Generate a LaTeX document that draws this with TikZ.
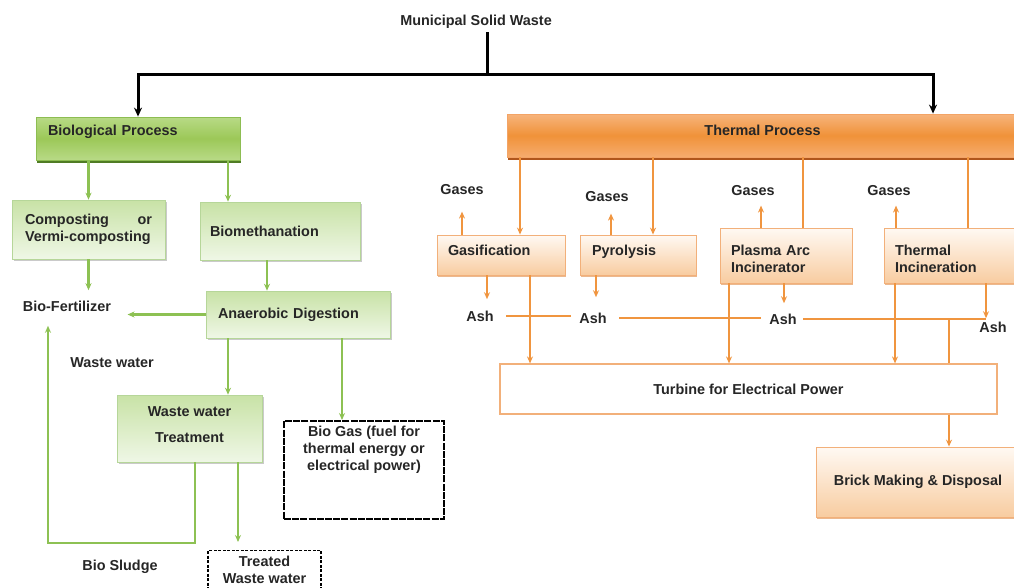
\documentclass[tikz,border=0pt]{standalone}
\usepackage{fontspec}
\setmainfont{Liberation Sans}
\usepackage{xcolor}
\usepackage{tikz}
\usetikzlibrary{positioning, arrows.meta, shadows, calc}
\definecolor{bInk}{HTML}{262626}
\definecolor{gHeadTop}{HTML}{B8DA86}
\definecolor{gHeadMid}{HTML}{9CC858}
\definecolor{gHeadLine}{HTML}{8DBD52}
\definecolor{gHeadDark}{HTML}{4F7C24}
\definecolor{gBoxTop}{HTML}{C8E2A6}
\definecolor{gBoxBot}{HTML}{EFF7E6}
\definecolor{gBoxLine}{HTML}{B6D699}
\definecolor{gArrow}{HTML}{8DC153}
\definecolor{oHeadTop}{HTML}{F7B47C}
\definecolor{oHeadMid}{HTML}{F09239}
\definecolor{oHeadBot}{HTML}{F6AC6E}
\definecolor{oHeadLine}{HTML}{F3A466}
\definecolor{oHeadDark}{HTML}{B0561C}
\definecolor{oBoxTop}{HTML}{FFF9F3}
\definecolor{oBoxBot}{HTML}{F8CCA0}
\definecolor{oBoxLine}{HTML}{F2B07A}
\definecolor{oBoxShade}{HTML}{E39A5E}
\definecolor{oArrow}{HTML}{F0953F}
\tikzset{
  txt/.style={font=\bfseries\fontsize{14.4}{17}\selectfont, text=bInk},
  lbl/.style={txt, inner sep=3.3pt},
  biohead/.style={txt, draw=gHeadLine, line width=0.8pt, top color=gHeadTop, bottom color=gHeadTop,
    middle color=gHeadMid, align=left, text depth=16pt,
    drop shadow={shadow xshift=1pt, shadow yshift=-3pt, fill=gHeadDark, opacity=1}},
  gbox/.style={txt, draw=gBoxLine, line width=0.6pt, top color=gBoxTop, bottom color=gBoxBot, align=left,
    drop shadow={shadow xshift=1.5pt, shadow yshift=-2pt, fill=black!35, opacity=.6}},
  thermhead/.style={txt, draw=oHeadLine, line width=0.8pt, top color=oHeadTop, bottom color=oHeadBot,
    middle color=oHeadMid, text depth=11pt,
    drop shadow={shadow xshift=1pt, shadow yshift=-3pt, fill=oHeadDark, opacity=1}},
  obox/.style={txt, draw=oBoxLine, line width=0.8pt, top color=oBoxTop, bottom color=oBoxBot, align=left,
    text depth=10pt, drop shadow={shadow xshift=1pt, shadow yshift=-2pt, fill=oBoxShade, opacity=.7}},
  turbbox/.style={txt, draw=oBoxLine, line width=1.2pt, fill=white},
  brickbox/.style={txt, draw=oBoxLine, line width=0.8pt, top color=oBoxTop, bottom color=oBoxBot,
    drop shadow={shadow xshift=1pt, shadow yshift=-2pt, fill=oBoxShade, opacity=.7}},
  gasbox/.style={txt, draw=black, line width=2.2pt, dash pattern=on 7pt off 1.2pt, fill=white,
    inner xsep=5pt, inner ysep=5pt},
  twbox/.style={txt, draw=black, line width=1.2pt, dash pattern=on 3pt off 1.5pt, fill=white},
  trunk/.style={draw=black, line width=3pt},
  trunkarrow/.style={trunk, -{Stealth[length=9pt, width=8pt]}},
  garrow/.style={-{Stealth[length=7pt, width=6pt]}, line width=2.2pt, gArrow},
  oline/.style={line width=2pt, oArrow},
  oarrow/.style={-{Stealth[length=7pt, width=6pt]}, line width=2pt, oArrow},
}

\begin{document}
\begin{tikzpicture}[x=1pt, y=-1pt, >=Stealth]
  \useasboundingbox (0,0) rectangle (1014,587);
  \node[lbl] (msw) at (476,22) {Municipal Solid Waste};

  % biological side
  \node[biohead, text width=180pt, inner xsep=12pt, minimum height=43pt] (bio) at (138,138.5) {Biological Process};
  \node[gbox, text width=127pt, inner xsep=13pt, minimum height=59pt] (comp) at (88.5,229.5) {Composting\hfill or\\Vermi-composting};
  \node[gbox, text width=140pt, inner xsep=10pt, minimum height=58pt] (biometh) at (280,231) {Biomethanation};
  \node[lbl] (fert) at (67,306) {Bio-Fertilizer};
  \node[gbox, text width=160pt, inner xsep=12pt, minimum height=47pt] (anaer) at (298,314.5) {Anaerobic Digestion};
  \node[lbl] (wwlbl) at (112,363) {Waste water};
  \node[gbox, align=center, minimum width=145pt, minimum height=67pt, text depth=8pt] (wwt) at (189.5,428.5) {Waste water\\[9pt]Treatment};
  \node[gasbox, anchor=north] (biogas) at (364,420)
    {\parbox[t][88pt][t]{150pt}{\centering Bio Gas (fuel for\\thermal energy or\\electrical power)}};
  \node[twbox, align=center, minimum width=113pt, minimum height=39pt, anchor=north] (treated) at (264.5,550) {Treated\\Waste water};
  \node[lbl] (sludge) at (120,567) {Bio Sludge};

  % thermal side
  \node[thermhead, minimum width=511pt, minimum height=43pt] (therm) at (762.5,135.5) {Thermal Process};
  \node[obox, text width=106pt, inner xsep=11pt, minimum height=40pt] (gasif) at (501,255) {Gasification};
  \node[obox, text width=92pt, inner xsep=12pt, minimum height=40pt] (pyro) at (638,255) {Pyrolysis};
  \node[obox, text width=110pt, inner xsep=11pt, minimum height=55pt] (plasma) at (786,255.5) {Plasma Arc\\Incinerator};
  \node[obox, text width=114pt, inner xsep=11pt, minimum height=55pt] (thincin) at (952,255.5) {Thermal\\Incineration};
  \foreach \n/\x/\y in {1/462/190, 2/607/197, 3/753/191, 4/889/191}
    \node[lbl] (gas\n) at (\x,\y) {Gases};
  \foreach \n/\x/\y in {1/480/316, 2/593/318, 3/783/319, 4/993/327}
    \node[lbl] (ash\n) at (\x,\y) {Ash};
  \node[turbbox, minimum width=497pt, minimum height=50pt] (turb) at (748.5,389) {Turbine for Electrical Power};
  \node[brickbox, minimum width=204pt, minimum height=70pt] (brick) at (918,482) {Brick Making \& Disposal};

  % main split
  \coordinate (split) at (487,74);
  \draw[trunk] (split |- msw.south) -- (split);
  \draw[trunkarrow] (split) -| (bio.north);
  \draw[trunkarrow] (split) -| ([xshift=170.5pt]therm.north);

  % green flows
  \draw[garrow] (bio.south -| comp.north) -- (comp.north);
  \draw[garrow] ([xshift=-52pt]biometh.north |- bio.south) -- ([xshift=-52pt]biometh.north);
  \draw[garrow, shorten >=7pt] (comp.south) -- (comp.south |- fert.north);
  \draw[garrow] ([xshift=-13pt]biometh.south) -- ([xshift=-13pt]biometh.south |- anaer.north);
  \draw[garrow, shorten >=13pt] (anaer.west) -- (anaer.west -| fert.east);
  \draw[garrow] ([xshift=-70pt]anaer.south) -- ([xshift=-70pt]anaer.south |- wwt.north);
  \draw[garrow] ([xshift=44pt]anaer.south) -- ([xshift=44pt]anaer.south |- biogas.north);
  \coordinate (sludgeturn) at (48,543);
  \draw[garrow, shorten >=11pt] ([xshift=5.5pt]wwt.south) |- (sludgeturn) -- (sludgeturn |- fert.south);
  \draw[garrow, shorten >=8pt] ([xshift=48.5pt]wwt.south) -- ([xshift=48.5pt]wwt.south |- treated.north);

  % orange flows
  \draw[oarrow] ([xshift=19pt]gasif.north |- therm.south) -- ([xshift=19pt]gasif.north);
  \draw[oarrow] ([xshift=15pt]pyro.north |- therm.south) -- ([xshift=15pt]pyro.north);
  \draw[oline] ([xshift=17pt]plasma.north |- therm.south) -- ([xshift=17pt]plasma.north);
  \draw[oline] ([xshift=16pt]thincin.north |- therm.south) -- ([xshift=16pt]thincin.north);
  \foreach \b/\g/\dx/\s in {gasif/gas1/-39/13, pyro/gas2/-27/8, plasma/gas3/-25/6, thincin/gas4/-56/6}
    \draw[oarrow, shorten >=\s pt] ([xshift=\dx pt]\b.north) -- ([xshift=\dx pt]\b.north |- \g.south);
  \foreach \b/\a/\dx/\s in {gasif/ash1/-14/8, pyro/ash2/-42/12, plasma/ash3/-2/7}
    \draw[oarrow, shorten >=\s pt] ([xshift=\dx pt]\b.south) -- ([xshift=\dx pt]\b.south |- \a.north);
  \coordinate (ashdrop) at ([xshift=34pt]thincin.south);
  \draw[oarrow] (ashdrop) -- (ashdrop |- ash4.north);
  \draw[oline, shorten <=9pt, shorten >=5pt] (ash1.east) -- (ash1.east -| ash2.west);
  \draw[oline, shorten <=9pt, shorten >=5pt] (ash2.east) -- (ash2.east -| ash3.west);
  \draw[oline, shorten <=3pt] (ash3.east) -- (ash3.east -| ashdrop);
  \foreach \b/\dx in {gasif/29, plasma/-57, thincin/-57}
    \draw[oarrow] ([xshift=\dx pt]\b.south) -- ([xshift=\dx pt]\b.south |- turb.north);
  \coordinate (brickin) at ([xshift=31pt]brick.north);
  \draw[oline] (brickin |- ash3.east) -- (brickin |- turb.north);
  \draw[oarrow] (brickin |- turb.south) -- (brickin);
\end{tikzpicture}
\end{document}
